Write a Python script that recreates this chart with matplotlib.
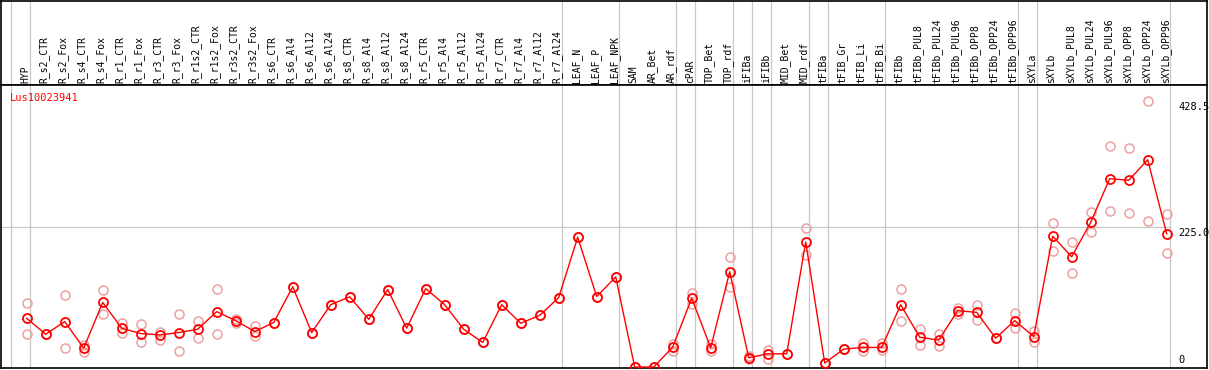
import matplotlib
matplotlib.use("Agg")
import matplotlib.pyplot as plt
import numpy as np

# --- data ---
samples = ["HYP", "R_s2_CTR", "R_s2_Fox", "R_s4_CTR", "R_s4_Fox", "R_r1_CTR", "R_r1_Fox",
           "R_r3_CTR", "R_r3_Fox", "R_r1s2_CTR", "R_r1s2_Fox", "R_r3s2_CTR", "R_r3s2_Fox",
           "R_s6_CTR", "R_s6_Al4", "R_s6_Al12", "R_s6_Al24", "R_s8_CTR", "R_s8_Al4",
           "R_s8_Al12", "R_s8_Al24", "R_r5_CTR", "R_r5_Al4", "R_r5_Al12", "R_r5_Al24",
           "R_r7_CTR", "R_r7_Al4", "R_r7_Al12", "R_r7_Al24", "LEAF_N", "LEAF_P", "LEAF_NPK",
           "SAM", "AR_Bet", "AR_rdf", "cPAR", "TOP_Bet", "TOP_rdf", "iFIBa", "iFIBb",
           "MID_Bet", "MID_rdf", "tFIBa", "tFIB_Gr", "tFIB_Li", "tFIB_Bi", "tFIBb",
           "tFIBb_PUL8", "tFIBb_PUL24", "tFIBb_PUL96", "tFIBb_OPP8", "tFIBb_OPP24",
           "tFIBb_OPP96", "sXYLa", "sXYLb", "sXYLb_PUL8", "sXYLb_PUL24", "sXYLb_PUL96",
           "sXYLb_OPP8", "sXYLb_OPP24", "sXYLb_OPP96"]

mean_vals = [78.4, 52.8, 73.1, 30.4, 104.0, 62.4, 53.9, 51.7, 55.5, 60.8, 89.1, 74.7, 57.1,
             71.5, 129.1, 55.5, 100.3, 113.1, 76.8, 124.7, 62.4, 126.3, 100.3, 60.8, 39.5,
             100.3, 70.4, 83.2, 111.9, 209.0, 113.5, 145.0, 0.0, 0.0, 32.0, 110.8, 30.9,
             153.5, 14.9, 21.3, 21.3, 201.5, 6.4, 28.8, 31.5, 31.5, 100.3, 48.0, 43.2, 90.7,
             88.0, 46.4, 74.7, 49.1, 210.6, 177.5, 233.0, 303.4, 300.7, 333.8, 214.3]

rep1_vals = [103.5, 52.8, 116.3, 35.7, 124.7, 70.4, 68.8, 57.1, 85.9, 73.6, 125.9, 77.2, 65.6,
             71.5, 129.1, 55.5, 100.3, 113.1, 76.8, 124.7, 62.4, 126.3, 100.3, 60.8, 39.5,
             100.3, 70.4, 83.2, 111.9, 209.0, 113.5, 145.0, 0.0, 0.0, 37.3, 118.8, 36.8,
             177.0, 12.8, 26.7, 21.3, 223.9, 6.4, 28.8, 38.4, 38.4, 126.3, 60.8, 52.8, 95.5,
             100.3, 46.4, 87.5, 58.7, 232.4, 201.0, 249.0, 356.1, 352.3, 428.5, 246.3]

rep2_vals = [53.3, 52.8, 29.9, 24.0, 84.8, 54.4, 40.0, 43.7, 25.1, 47.5, 52.8, 70.4, 49.6,
             71.5, 129.1, 55.5, 100.3, 113.1, 76.8, 124.7, 62.4, 126.3, 100.3, 60.8, 39.5,
             100.3, 70.4, 83.2, 111.9, 209.0, 113.5, 145.0, 0.0, 0.0, 25.1, 101.9, 25.1,
             129.1, 17.0, 12.3, 21.3, 179.6, 6.4, 28.8, 26.1, 27.7, 74.7, 34.7, 33.1, 84.8,
             76.3, 46.4, 63.5, 40.0, 187.6, 151.4, 217.0, 250.6, 247.4, 234.6, 183.9]

# index of the last sample in each group (gray separators drawn right after it)
group_ends = [-1, 0, 28, 31, 34, 35, 37, 38, 39, 41, 42, 45, 52, 53, 60]

gene = "Lus10023941"
y_ticks = [428.5, 225.0, 0]
y_tick_labels = ["428.5", "225.0", "0"]

# --- layout (pixel based) ---
W, H = 1209, 370
fig = plt.figure(figsize=(W / 100, H / 100), dpi=100)
plt.rcParams['font.family'] = ['DejaVu Sans Mono']

x0_pix, step = 26.7, 19.0
xlim = ((1 - x0_pix) / step, (1207 - x0_pix) / step)
header_h = 85
ax_head = fig.add_axes([1 / W, (H - header_h) / H, 1206 / W, (header_h - 0.5) / H])
ax = fig.add_axes([1 / W, 2 / H, 1206 / W, (H - header_h - 2) / H])

scale = 0.6253
ylim = (-(369 - 368) / scale, (369 - header_h) / scale)

xs = np.arange(len(samples))
sep = 0.19
gray = "#c8c8c8"

for a in (ax_head, ax):
    a.set_xlim(*xlim)
    a.set_xticks([])
    a.set_yticks([])
    for s in a.spines.values():
        s.set_linewidth(1.2)
        s.set_color("black")
    for g in group_ends:
        a.axvline(g + sep, color=gray, lw=0.9, zorder=1)

ax_head.set_ylim(0, header_h)
for i, name in enumerate(samples):
    ax_head.text(i - 0.08, 2.5, name, rotation=90, ha="center", va="bottom",
                 fontsize=7, color="black")

ax.set_ylim(*ylim)
ax.plot([xlim[0], 60 + sep], [225, 225], color=gray, lw=0.9, zorder=1)

# replicates
ax.plot(xs, rep1_vals, ls="none", marker="o", ms=6.5, mfc="none", mec="#eea0a0",
        mew=1.1, zorder=2)
ax.plot(xs, rep2_vals, ls="none", marker="o", ms=6.5, mfc="none", mec="#eea0a0",
        mew=1.1, zorder=2)
# mean
ax.plot(xs, mean_vals, color="#ff0000", lw=1.0, marker="o", ms=6.5, mfc="none",
        mec="#ff0000", mew=1.3, zorder=3)

tx = (1178 - x0_pix) / step
for v, lab in zip(y_ticks, y_tick_labels):
    if v == 0:
        ax.text(tx, v + 3, lab, ha="left", va="bottom", fontsize=7.5, clip_on=False)
    else:
        ax.text(tx, v - 1, lab, ha="left", va="top", fontsize=7.5, clip_on=False)

fig.text(10 / W, 1 - 97.7 / H, gene, color="#ff0000", fontsize=7.5, ha="left", va="center")

fig.savefig("out.png", dpi=100)
